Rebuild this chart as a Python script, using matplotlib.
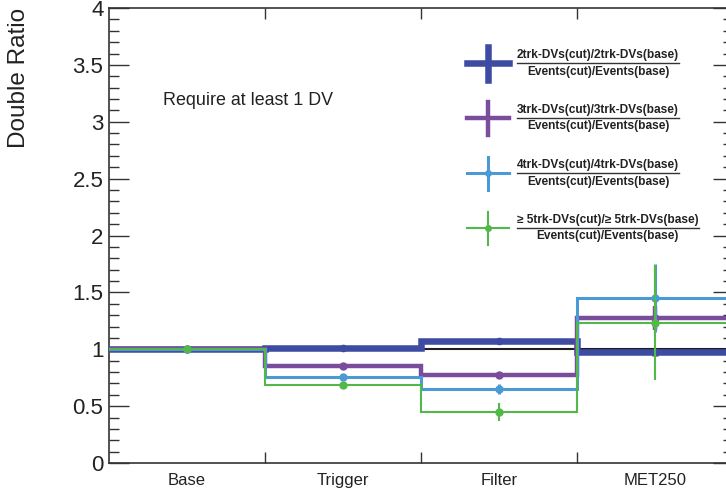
import matplotlib
matplotlib.use("Agg")
import matplotlib.pyplot as plt
import numpy as np
from matplotlib.lines import Line2D
from matplotlib.ticker import MultipleLocator, FuncFormatter

plt.rcParams["font.family"] = ["Liberation Sans", "DejaVu Sans"]

# bins of the cutflow
bins = ["Base", "Trigger", "Filter", "MET250"]

# double ratios per track multiplicity
ratio_2trk = [1.0, 1.008, 1.075, 0.975]
err_2trk = [0.0, 0.01, 0.015, 0.03]
ratio_3trk = [1.0, 0.856, 0.774, 1.272]
err_3trk = [0.0, 0.015, 0.02, 0.105]
ratio_4trk = [1.0, 0.753, 0.648, 1.453]
err_4trk = [0.0, 0.02, 0.045, 0.30]
ratio_5trk = [1.0, 0.683, 0.448, 1.233]
err_5trk = [0.015, 0.02, 0.077, 0.505]

numerators = [
    "2trk-DVs(cut)/2trk-DVs(base)",
    "3trk-DVs(cut)/3trk-DVs(base)",
    "4trk-DVs(cut)/4trk-DVs(base)",
    "\u2265 5trk-DVs(cut)/\u2265 5trk-DVs(base)",
]
denominator = "Events(cut)/Events(base)"

W, H = 726, 492
fig = plt.figure(figsize=(W / 100, H / 100), dpi=100)
ax = fig.add_axes([109 / W, 1 - 463 / H, 624 / W, 455 / H])


def px(x, y):
    # pixel position (from top-left) -> figure fraction
    return x / W, 1 - y / H


edges = np.arange(len(bins) + 1)
centers = edges[:-1] + 0.5

styles = [
    # colour, line width (pt), marker size
    ("#3d4ba3", 4.7, 4.5),
    ("#7a4c9c", 3.2, 5),
    ("#4b9ad6", 2.2, 5),
    ("#52b848", 1.5, 5),
]
series = [
    (ratio_2trk, err_2trk),
    (ratio_3trk, err_3trk),
    (ratio_4trk, err_4trk),
    (ratio_5trk, err_5trk),
]

ax.axhline(1.0, color="#1e1e1e", lw=1.5, zorder=2)
for i, ((vals, errs), (color, lw, ms)) in enumerate(zip(series, styles)):
    z = 3 + 2 * i
    ax.stairs(vals, edges, baseline=None, color=color, lw=lw, zorder=z)
    ax.errorbar(centers, vals, yerr=errs, fmt="o", color=color, ms=ms,
                elinewidth=lw, capsize=0, zorder=z + 1)

ax.set_xlim(0, 4)
ax.set_ylim(0, 4)

ax.set_xticks(centers)
ax.set_xticklabels(bins, fontsize=12, color="#222222")
ax.set_xticks(edges[1:-1], minor=True)
ax.tick_params(axis="x", which="major", length=0, pad=7)
ax.tick_params(axis="x", which="minor", direction="in", length=8, width=1,
               top=True, bottom=True, color="#333333")

ax.yaxis.set_major_locator(MultipleLocator(0.5))
ax.yaxis.set_minor_locator(MultipleLocator(0.1))
ax.yaxis.set_major_formatter(FuncFormatter(lambda v, p: "%g" % v))
ax.tick_params(axis="y", which="both", direction="in", left=True, right=True,
               color="#333333", width=1)
ax.tick_params(axis="y", which="major", length=14.4, labelsize=16, pad=4,
               labelcolor="#222222")
ax.tick_params(axis="y", which="minor", length=7.2)
for s in ax.spines.values():
    s.set_color("#333333")
    s.set_linewidth(1.2)

fig.text(*px(19, 8), "Double Ratio", rotation=90, ha="center", va="top",
         fontsize=17.5, color="#222222")
fig.text(*px(163, 105), "Require at least 1 DV", ha="left", va="baseline",
         fontsize=12.9, color="#222222")

# legend drawn by hand, with fraction labels
nums = []
for i, (color, lw, ms) in enumerate(styles):
    cy = 63 + 55 * i
    x0, y0 = px(467, cy)
    x1, _ = px(509, cy)
    xc, _ = px(488, cy)
    _, ya = px(0, cy - 16.5)
    _, yb = px(0, cy + 16.5)
    fig.add_artist(Line2D([x0, x1], [y0, y0], color=color, lw=lw,
                          transform=fig.transFigure))
    fig.add_artist(Line2D([xc, xc], [ya, yb], color=color, lw=lw,
                          transform=fig.transFigure))
    if i >= 2:
        fig.add_artist(Line2D([xc], [y0], color=color, marker="o", ms=4,
                              transform=fig.transFigure))
    t = fig.text(*px(517, cy - 8), numerators[i], ha="left", va="center",
                 fontsize=8.6, fontweight="bold", color="#222222")
    nums.append((t, cy))

fig.canvas.draw()
for t, cy in nums:
    bb = t.get_window_extent()
    l = bb.x0 / W
    r = bb.x1 / W
    _, yr = px(0, cy)
    fig.add_artist(Line2D([l, r], [yr, yr], color="#333333", lw=1,
                          transform=fig.transFigure))
    fig.text((l + r) / 2, px(0, cy + 8.5)[1], denominator, ha="center",
             va="center", fontsize=8.6, fontweight="bold", color="#222222")

fig.savefig("out.png", dpi=100)
